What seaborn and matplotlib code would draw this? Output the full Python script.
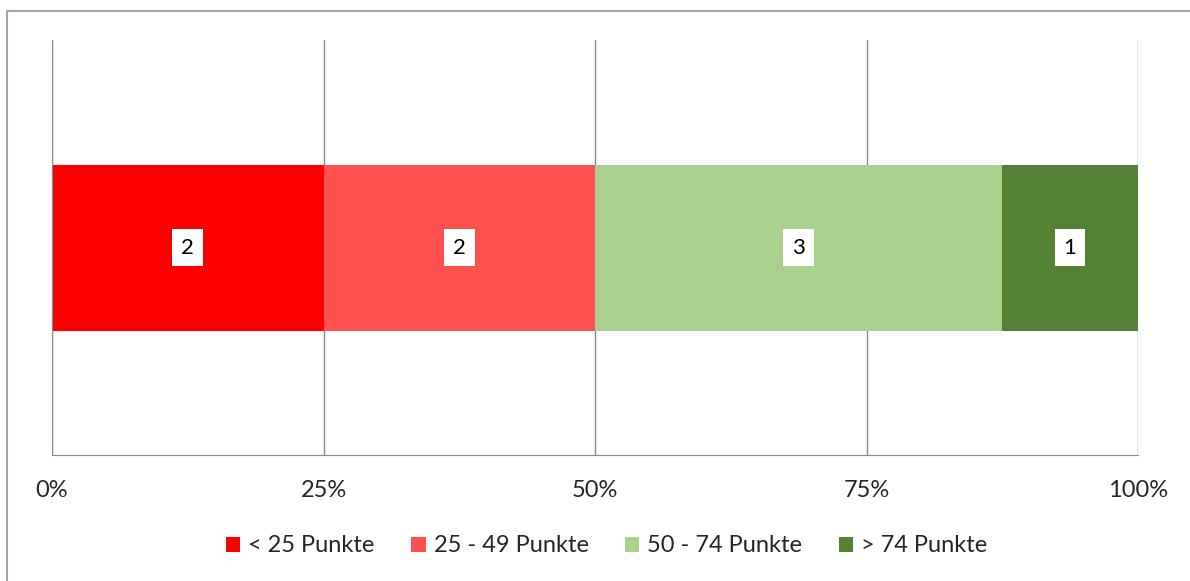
import matplotlib
matplotlib.use("Agg")
import matplotlib.pyplot as plt
import seaborn as sns
import numpy as np
import pandas as pd
from matplotlib.patches import Rectangle, Patch

categories = ["< 25 Punkte", "25 - 49 Punkte", "50 - 74 Punkte", "> 74 Punkte"]
counts = [2, 2, 3, 1]
colors = ["#ff0000", "#ff5050", "#a9d18e", "#548235"]
tick_labels = ["0%", "25%", "50%", "75%", "100%"]

sns.set_style("white")
plt.rcParams["font.family"] = ["Lato", "DejaVu Sans"]

total = sum(counts)
cum = np.cumsum(counts) / total * 100
starts = np.concatenate([[0], cum[:-1]])

fig = plt.figure(figsize=(11.9, 5.81), dpi=100)
W, H = 1190, 581
ax = fig.add_axes([52 / W, 1 - 455 / H, (1138 - 52) / W, (455 - 40) / H])

# outer frame
fig.patches.append(Rectangle((6.5 / W, -0.1), 1.2, 1 - 10.5 / H + 0.1, transform=fig.transFigure,
                             fill=False, edgecolor="#a6a6a6", linewidth=1.5))

for i in reversed(range(len(categories))):
    d = pd.DataFrame({"group": ["A"], "value": [cum[i]]})
    sns.barplot(data=d, x="value", y="group", orient="h", color=colors[i],
                width=0.4, ax=ax, saturation=1, zorder=2, edgecolor="none")

for i in range(len(categories)):
    ax.text((starts[i] + cum[i]) / 2, 0, str(counts[i]), ha="center", va="center",
            fontsize=16, color="black", zorder=5,
            bbox=dict(facecolor="white", edgecolor="none", boxstyle="square,pad=0.4"))

ax.set_xlim(0, 100)
ax.set_ylim(0.5, -0.5)
ax.set_xticks([0, 25, 50, 75, 100])
ax.set_xticklabels(tick_labels, fontsize=17)
ax.set_yticks([])
ax.set_xlabel("")
ax.set_ylabel("")
ax.grid(axis="x", color="#8c8c8c", linewidth=1, zorder=0)
ax.set_axisbelow(True)
for s in ["top", "right"]:
    ax.spines[s].set_visible(False)
ax.spines["left"].set_color("#8c8c8c")
ax.spines["bottom"].set_color("#8c8c8c")
ax.tick_params(axis="x", direction="out", length=7, color="#8c8c8c", width=1, pad=11)

handles = [Patch(facecolor=c, edgecolor="none") for c in colors]
fig.legend(handles, categories, loc="center", bbox_to_anchor=(0.51, 1 - 546 / H), ncol=4,
           frameon=False, fontsize=17, handlelength=0.6, handleheight=0.6,
           handletextpad=0.34, columnspacing=1.55)

fig.savefig("out.png", dpi=100)
